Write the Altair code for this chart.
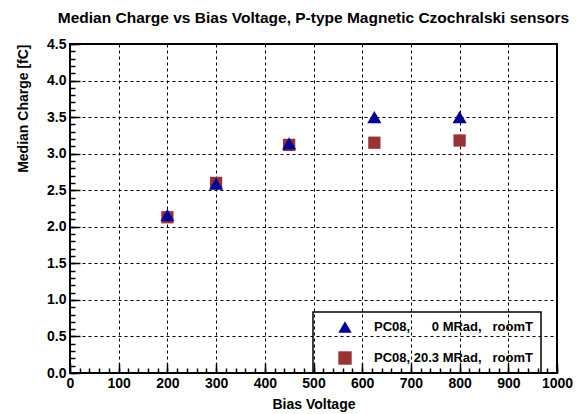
import altair as alt
import pandas as pd

NB = "\u00a0"
FONT = "Liberation Sans"

series_names = [f"PC08,{NB*6}0 MRad,{NB*3}roomT", f"PC08, 20.3 MRad,{NB*3}roomT"]
series_colors = ["#000099", "#993333"]
series_shapes = ["triangle-up", "square"]

bias_voltage = [200, 300, 450, 625, 800]
charge_0mrad = [2.16, 2.59, 3.14, 3.50, 3.50]
charge_20mrad = [2.13, 2.60, 3.12, 3.15, 3.18]

x_major = [0, 100, 200, 300, 400, 500, 600, 700, 800, 900, 1000]
x_minor = list(range(0, 1001, 20))
y_major = [0.0, 0.5, 1.0, 1.5, 2.0, 2.5, 3.0, 3.5, 4.0, 4.5]
y_minor = [round(i * 0.1, 1) for i in range(46)]

rows = []
for v, c in zip(bias_voltage, charge_20mrad):
    rows.append({"voltage": v, "charge": c, "series": series_names[1]})
for v, c in zip(bias_voltage, charge_0mrad):
    rows.append({"voltage": v, "charge": c, "series": series_names[0]})
df = pd.DataFrame(rows)

W, H = 487, 329
xscale = alt.Scale(domain=[0, 1000], nice=False, zero=False)
yscale = alt.Scale(domain=[0, 4.5], nice=False, zero=False)

legend = alt.Legend(
    title=None, orient="none", legendX=243, legendY=268,
    strokeColor="black", padding=8, rowPadding=17,
    symbolOffset=17, labelOffset=22, symbolSize=180, symbolStrokeWidth=0,
    labelFont=FONT, labelFontSize=13, labelFontWeight="bold", labelColor="black",
    labelLimit=400, labelExpr="datum.label + '" + NB * 8 + "'",
)

base = alt.Chart(df)

points = base.mark_point(filled=True, opacity=1, strokeWidth=0).encode(
    x=alt.X("voltage:Q", scale=xscale, axis=alt.Axis(
        orient="bottom", values=x_major, format="d", title="Bias Voltage", grid=True,
        gridColor="black", gridDash=[3, 3], gridWidth=1, gridOpacity=1,
        ticks=False, tickSize=0, domain=False, labelFont=FONT, labelFontSize=14,
        labelFontWeight="bold", labelColor="black", labelPadding=3, labelFlush=False,
        labelOverlap=False, titleFont=FONT, titleFontSize=14, titleFontWeight="bold",
        titleColor="black", titleY=35, titleBaseline="alphabetic")),
    y=alt.Y("charge:Q", scale=yscale, axis=alt.Axis(
        orient="left", values=y_major, format=".1f", title="Median Charge [fC]",
        grid=True, gridColor="black", gridDash=[3, 3], gridWidth=1, gridOpacity=1,
        ticks=False, tickSize=0, domain=False, labelFont=FONT, labelFontSize=14,
        labelFontWeight="bold", labelColor="black", labelPadding=4, labelFlush=False,
        labelOverlap=False, titleFont=FONT, titleFontSize=14, titleFontWeight="bold",
        titleColor="black", titleAngle=270, titleX=-43, titleY=0, titleAlign="right",
        titleBaseline="alphabetic")),
    color=alt.Color("series:N", scale=alt.Scale(domain=series_names, range=series_colors), legend=legend),
    shape=alt.Shape("series:N", scale=alt.Scale(domain=series_names, range=series_shapes), legend=legend),
    size=alt.condition(alt.datum.series == series_names[0], alt.value(200), alt.value(150)),
)


def x_ticks(values, size):
    return base.mark_point(opacity=0).encode(
        x=alt.X("voltage:Q", scale=xscale, axis=alt.Axis(
            orient="top", offset=-H, values=values, tickSize=size, tickColor="black",
            tickWidth=1.5, labels=False, domain=False, grid=False, title=None)),
        y=alt.Y("charge:Q", scale=yscale, axis=None),
    )


def y_ticks(values, size):
    return base.mark_point(opacity=0).encode(
        x=alt.X("voltage:Q", scale=xscale, axis=None),
        y=alt.Y("charge:Q", scale=yscale, axis=alt.Axis(
            orient="right", offset=-W, values=values, tickSize=size, tickColor="black",
            tickWidth=1.5, labels=False, domain=False, grid=False, title=None)),
    )


chart = alt.layer(
    points,
    x_ticks(x_major, 10), x_ticks(x_minor, 5),
    y_ticks(y_major, 10), y_ticks(y_minor, 5),
).resolve_axis(x="independent", y="independent").properties(
    width=W, height=H,
    padding={"left": 70, "top": 44, "right": 20, "bottom": 41},
    autosize=alt.AutoSizeParams(type="none"),
    background="white",
    title=alt.Title(
        "Median Charge vs Bias Voltage, P-type Magnetic Czochralski sensors",
        font=FONT, fontSize=15.5, fontWeight="bold", color="black",
        anchor="middle", frame="group", offset=0, dy=1, baseline="alphabetic"),
).configure_view(stroke="black", strokeWidth=2).configure_legend(strokeWidth=1.5)

chart.save("out.html", embed_options={"renderer": "svg", "actions": False})
